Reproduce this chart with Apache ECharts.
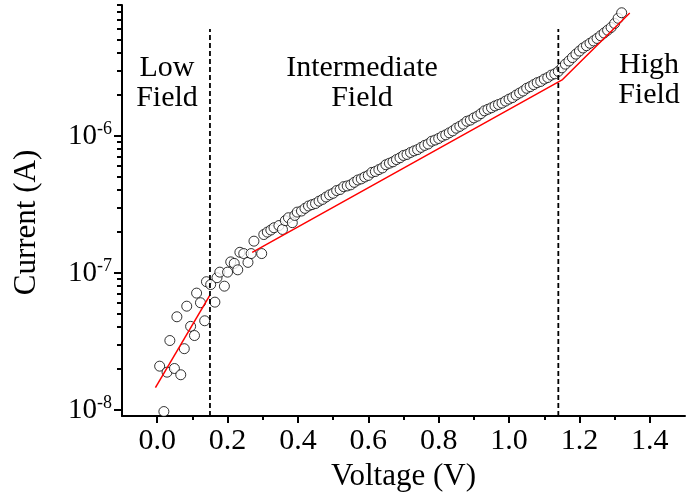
<!DOCTYPE html>
<html><head><meta charset="utf-8">
<script src="https://cdn.jsdelivr.net/npm/echarts@6/dist/echarts.min.js"></script>
<style>html,body{margin:0;padding:0;background:#fff}#c{width:686px;height:498px}</style>
</head><body><div id="c"></div>
<script>
// ---- data ----
const voltage = [
  0.007,0.019,0.028,0.036,0.049,0.056,0.067,0.077,0.084,0.095,0.106,0.112,0.123,0.135,0.140,0.152,
  0.164,0.170,0.178,0.191,0.200,0.209,0.219,0.229,0.235,0.246,0.258,0.267,0.275,0.297,
  0.303,0.313,0.323,0.332,0.346,0.356,0.364,0.373,0.384,0.391,0.398,
  0.41,0.42,0.43,0.44,0.45,0.46,0.47,0.48,0.49,0.50,0.51,0.52,0.53,0.54,0.55,0.56,0.57,0.58,0.59,0.60,
  0.61,0.62,0.63,0.64,0.65,0.66,0.67,0.68,0.69,0.70,0.71,0.72,0.73,0.74,0.75,0.76,0.77,0.78,0.79,0.80,
  0.81,0.82,0.83,0.84,0.85,0.86,0.87,0.88,0.89,0.90,0.91,0.92,0.93,0.94,0.95,0.96,0.97,0.98,0.99,1.00,
  1.01,1.02,1.03,1.04,1.05,1.06,1.07,1.08,1.09,1.10,1.11,1.12,1.13,1.14,1.15,1.16,1.17,1.18,1.19,1.20,
  1.21,1.22,1.23,1.24,1.25,1.26,1.27,1.28,1.29,1.30,1.31,1.32
];
const current = [
  2.08e-8,9.7e-9,1.88e-8,3.2e-8,2.0e-8,4.77e-8,1.8e-8,2.79e-8,5.7e-8,4.06e-8,3.48e-8,7.1e-8,6.04e-8,4.46e-8,8.6e-8,8.2e-8,
  6.1e-8,9.2e-8,1.01e-7,7.98e-8,1.01e-7,1.20e-7,1.17e-7,1.05e-7,1.41e-7,1.38e-7,1.19e-7,1.38e-7,1.70e-7,1.38e-7,
  1.90e-7,1.98e-7,2.05e-7,2.13e-7,2.21e-7,2.07e-7,2.40e-7,2.52e-7,2.32e-7,2.62e-7,2.77e-7,
  2.82e-7,2.95e-7,3.07e-7,3.14e-7,3.20e-7,3.33e-7,3.43e-7,3.57e-7,3.70e-7,3.80e-7,3.98e-7,4.05e-7,4.25e-7,4.30e-7,4.38e-7,4.57e-7,4.75e-7,4.84e-7,5.00e-7,5.13e-7,
  5.40e-7,5.48e-7,5.66e-7,5.82e-7,6.14e-7,6.30e-7,6.45e-7,6.70e-7,6.90e-7,7.18e-7,7.30e-7,7.55e-7,7.75e-7,7.92e-7,8.22e-7,8.50e-7,8.70e-7,9.12e-7,9.30e-7,9.55e-7,
  9.90e-7,1.015e-6,1.05e-6,1.085e-6,1.135e-6,1.17e-6,1.215e-6,1.275e-6,1.30e-6,1.35e-6,1.39e-6,1.45e-6,1.52e-6,1.56e-6,1.60e-6,1.65e-6,1.69e-6,1.73e-6,1.79e-6,1.85e-6,
  1.90e-6,1.98e-6,2.05e-6,2.12e-6,2.22e-6,2.28e-6,2.36e-6,2.44e-6,2.49e-6,2.59e-6,2.66e-6,2.77e-6,2.83e-6,2.95e-6,3.13e-6,3.33e-6,3.51e-6,3.72e-6,3.94e-6,4.15e-6,
  4.37e-6,4.54e-6,4.73e-6,4.92e-6,5.13e-6,5.37e-6,5.62e-6,5.89e-6,6.17e-6,6.60e-6,7.20e-6,7.90e-6
];
const lowFitV = [-0.005, 0.149];
const lowFitI = [1.45e-8, 6.8e-8];
const highFitV = [0.270, 1.152, 1.343];
const highFitI = [1.41e-7, 2.57e-6, 7.87e-6];
const boundaryV = [0.15, 1.14];
const boundaryI = [9e-9, 6e-6];
const xTicks = [0.0, 0.2, 0.4, 0.6, 0.8, 1.0, 1.2, 1.4];
const xMinorTicks = [0.1, 0.3, 0.5, 0.7, 0.9, 1.1, 1.3];
const yTicks = [1e-8, 1e-7, 1e-6];
const yMinorTicks = [2e-8,3e-8,4e-8,5e-8,6e-8,7e-8,8e-8,9e-8,2e-7,3e-7,4e-7,5e-7,6e-7,7e-7,8e-7,9e-7,2e-6,3e-6,4e-6,5e-6,6e-6,7e-6,8e-6,9e-6];
const regionLabels = ['Low\nField', 'Intermediate\nField', 'High\nField'];

const FONT = '"Liberation Serif", "Times New Roman", serif';
const pts = voltage.map((v, i) => [v, current[i]]);
const pair = (xs, ys) => xs.map((x, i) => [x, ys[i]]);

const chart = echarts.init(document.getElementById('c'), null, {renderer: 'canvas'});
const axLine = {show: true, onZero: false, lineStyle: {color: '#000', width: 2}};
const hidLine = {show: false, onZero: false};
const regionText = (i, x, y) => ({
  type: 'text', x: x, y: y, z: 10,
  style: {text: regionLabels[i], fill: '#000', fontSize: 30, fontFamily: FONT,
          textAlign: 'center', textVerticalAlign: 'top', lineHeight: 30}
});
chart.setOption({
  animation: false,
  backgroundColor: '#fff',
  grid: {left: 122, right: 1, top: 5, bottom: 82, containLabel: false},
  xAxis: [{
    type: 'value', min: -0.1, max: 1.5, position: 'bottom',
    axisLine: axLine,
    axisTick: {show: true, customValues: xTicks, length: 7, lineStyle: {color: '#000', width: 2}},
    axisLabel: {customValues: xTicks, formatter: v => v.toFixed(1), fontSize: 30, color: '#000', fontFamily: FONT, margin: 10},
    splitLine: {show: false},
    name: 'Voltage (V)', nameLocation: 'middle', nameGap: 43,
    nameTextStyle: {fontSize: 31, color: '#000', fontFamily: FONT}
  }, {
    type: 'value', min: -0.1, max: 1.5, position: 'bottom',
    axisLine: hidLine,
    axisTick: {show: true, customValues: xMinorTicks, length: 4, lineStyle: {color: '#000', width: 2}},
    axisLabel: {show: false}, splitLine: {show: false}
  }],
  yAxis: [{
    type: 'log', logBase: 10, min: 9e-9, max: 9e-6, position: 'left',
    axisLine: axLine,
    axisTick: {show: true, customValues: yTicks, length: 8, lineStyle: {color: '#000', width: 2}},
    axisLabel: {
      customValues: yTicks, margin: 10, color: '#000', fontFamily: FONT,
      formatter: v => '{b|10}{s|' + Math.round(Math.log10(v)) + '}',
      rich: {
        b: {fontSize: 29, fontFamily: FONT, color: '#000', lineHeight: 30, verticalAlign: 'bottom', padding: [6, 0, 0, 0]},
        s: {fontSize: 18, fontFamily: FONT, color: '#000', lineHeight: 18, verticalAlign: 'top'}
      }
    },
    splitLine: {show: false},
    name: 'Current (A)', nameLocation: 'middle', nameGap: 80,
    nameTextStyle: {fontSize: 31, color: '#000', fontFamily: FONT, padding: [0, 24, 0, 0]}
  }, {
    type: 'log', logBase: 10, min: 9e-9, max: 9e-6, position: 'left',
    axisLine: hidLine,
    axisTick: {show: true, customValues: yMinorTicks, length: 5, lineStyle: {color: '#000', width: 2}},
    axisLabel: {show: false}, splitLine: {show: false}
  }],
  series: [{
    type: 'scatter', data: pts, symbol: 'circle', symbolSize: 10,
    itemStyle: {color: '#fff', borderColor: '#000', borderWidth: 1}, z: 2
  }, {
    type: 'line', data: pair(lowFitV, lowFitI), showSymbol: false, symbol: 'none',
    lineStyle: {color: '#ff0000', width: 1.5}, z: 3
  }, {
    type: 'line', data: pair(highFitV, highFitI), showSymbol: false, symbol: 'none',
    lineStyle: {color: '#ff0000', width: 1.5}, z: 3
  }].concat(boundaryV.map(v => ({
    type: 'line', data: boundaryI.map(c => [v, c]), showSymbol: false, symbol: 'none',
    lineStyle: {color: '#000', width: 1.8, type: [5, 3]}, z: 4
  }))),
  graphic: [regionText(0, 167, 53), regionText(1, 362, 53), regionText(2, 649, 50)]
});
</script></body></html>
